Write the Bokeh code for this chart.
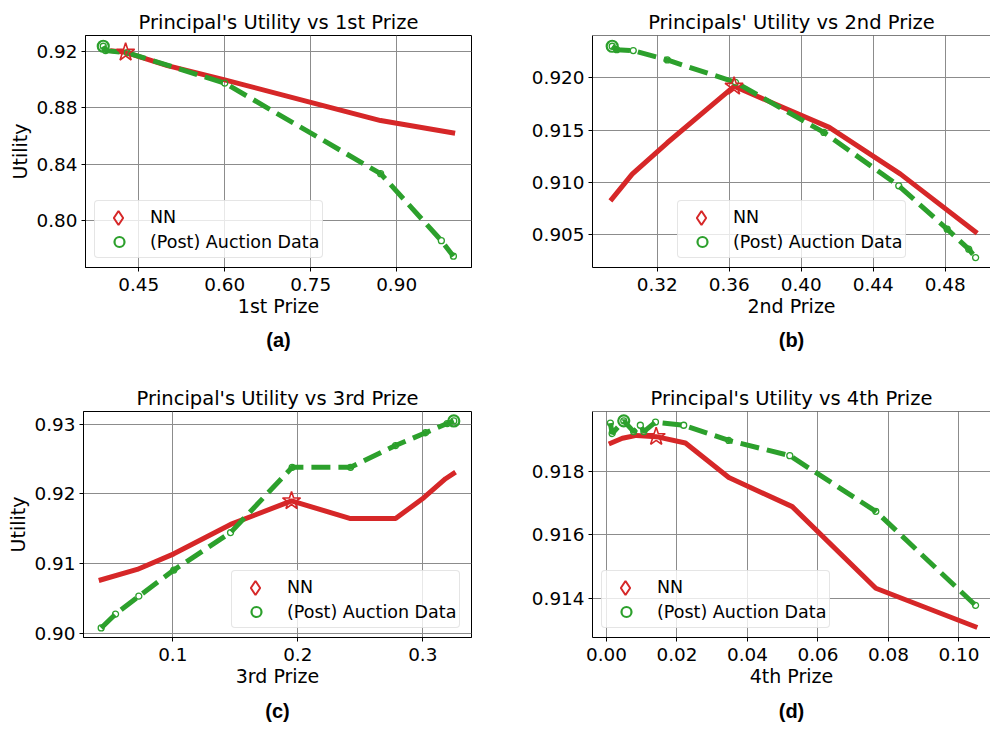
from bokeh.plotting import figure
from bokeh.layouts import column, row
from bokeh.models import Range1d, FixedTicker, Legend, LegendItem, Title, Span, NumeralTickFormatter
from bokeh.embed import file_html
from bokeh.resources import INLINE

RED = "#d62728"
GREEN = "#2ca02c"
FONT = "DejaVu Sans"

# ---------------- data ----------------
# (a) 1st prize
a_nn_x = [0.400, 0.427, 0.500, 0.600, 0.750, 0.872, 1.002]
a_nn_y = [0.9205, 0.9193, 0.9099, 0.8998, 0.8839, 0.8710, 0.8620]
a_nn_best = (0.427, 0.9193)
a_ad_x = [0.388, 0.392, 0.430, 0.600, 0.872, 0.978, 0.999]
a_ad_y = [0.9236, 0.9205, 0.9190, 0.8975, 0.8334, 0.7860, 0.7750]
a_ad_best = (0.388, 0.9236)

# (b) 2nd prize
b_nn_x = [0.294, 0.3061, 0.3256, 0.3627, 0.4156, 0.4552, 0.4978]
b_nn_y = [0.90825, 0.9108, 0.9138, 0.9192, 0.91527, 0.9108, 0.90515]
b_nn_best = (0.3627, 0.9192)
b_ad_x = [0.295, 0.2975, 0.3067, 0.3256, 0.3635, 0.4126, 0.4542, 0.4811, 0.4931, 0.4969]
b_ad_y = [0.92303, 0.9227, 0.92262, 0.92172, 0.91958, 0.91479, 0.90968, 0.90554, 0.90362, 0.90282]
b_ad_best = (0.295, 0.92303)

# (c) 3rd prize
c_nn_x = [0.0408, 0.0715, 0.1008, 0.1462, 0.1950, 0.2422, 0.2782, 0.3008, 0.3182, 0.3262]
c_nn_y = [0.90757, 0.90916, 0.9114, 0.91562, 0.91900, 0.91646, 0.91646, 0.91946, 0.92218, 0.92312]
c_nn_best = (0.1950, 0.9190)
c_ad_x = [0.0427, 0.0542, 0.0728, 0.1008, 0.1462, 0.1955, 0.2422, 0.2782, 0.3022, 0.3195, 0.3248]
c_ad_y = [0.90076, 0.90275, 0.90532, 0.90907, 0.91445, 0.92382, 0.92382, 0.92694, 0.92878, 0.93010, 0.93047]
c_ad_best = (0.3248, 0.93047)

# (d) 4th prize
d_nn_x = [0.00066, 0.0045, 0.0085, 0.0141, 0.0224, 0.0347, 0.0527, 0.0764, 0.1052]
d_nn_y = [0.91887, 0.91905, 0.91914, 0.91910, 0.91890, 0.91781, 0.91689, 0.91431, 0.91307]
d_nn_best = (0.0141, 0.9191)
d_ad_x = [0.0011, 0.0016, 0.0049, 0.0077, 0.0096, 0.0106, 0.0139, 0.0219, 0.0347, 0.0520, 0.0764, 0.1047]
d_ad_y = [0.91953, 0.91920, 0.91960, 0.91926, 0.91946, 0.91926, 0.91956, 0.91946, 0.91898, 0.91850, 0.91674, 0.91377]
d_ad_best = (0.0049, 0.91960)


def make_panel(title, sub, xr, yr, xticks, yticks, xfmt, yfmt, xlabel, ylabel,
               width, height, left, right, top, bottom, open_right,
               nn_x, nn_y, nn_best, ad_x, ad_y, ad_best, leg_loc, sub_standoff):
    p = figure(width=width, height=height, x_range=Range1d(*xr), y_range=Range1d(*yr),
               output_backend="svg", toolbar_location=None,
               min_border_left=left, min_border_right=right,
               min_border_top=top, min_border_bottom=bottom,
               background_fill_color="white", border_fill_color="white")
    p.title.text = title
    p.title.align = "center"
    p.title.text_font = FONT
    p.title.text_font_style = "normal"
    p.title.text_font_size = "19.5px"
    p.title.text_color = "black"
    p.title.standoff = 3

    for ax in (p.xaxis[0], p.yaxis[0]):
        ax.major_label_text_font = FONT
        ax.major_label_text_font_size = "18.4px"
        ax.major_label_text_color = "black"
        ax.axis_label_text_font = FONT
        ax.axis_label_text_font_size = "19px"
        ax.axis_label_text_font_style = "normal"
        ax.axis_label_text_color = "black"
        ax.major_tick_out = 4
        ax.major_tick_in = 0
        ax.minor_tick_out = 0
        ax.minor_tick_in = 0
        ax.axis_line_color = "black"
        ax.major_tick_line_color = "black"
    p.xaxis[0].major_label_standoff = 6
    p.xaxis[0].axis_label_standoff = 1
    p.yaxis[0].major_label_standoff = 4
    p.yaxis[0].axis_label_standoff = 3
    p.xaxis[0].ticker = FixedTicker(ticks=xticks)
    p.yaxis[0].ticker = FixedTicker(ticks=yticks)
    p.xaxis[0].formatter = NumeralTickFormatter(format=xfmt)
    p.yaxis[0].formatter = NumeralTickFormatter(format=yfmt)
    p.xaxis[0].axis_label = xlabel
    if ylabel:
        p.yaxis[0].axis_label = ylabel

    p.xgrid.grid_line_color = "#8c8c8c"
    p.ygrid.grid_line_color = "#8c8c8c"
    p.xgrid.grid_line_width = 1
    p.ygrid.grid_line_width = 1

    if open_right:
        p.outline_line_color = None
        p.add_layout(Span(location=yr[1], dimension="width", line_color="black", line_width=1))
    else:
        p.outline_line_color = "black"
        p.outline_line_width = 1

    p.line(nn_x, nn_y, line_color=RED, line_width=5, line_join="round")
    p.line(ad_x, ad_y, line_color=GREEN, line_width=5, line_dash="19 8")
    p.scatter(ad_x, ad_y, marker="circle", size=6, fill_color=None,
              line_color=GREEN, line_width=1.3)
    p.scatter([ad_best[0]], [ad_best[1]], marker="circle", size=11, fill_color=None,
              line_color=GREEN, line_width=2.2)
    p.scatter([nn_best[0]], [nn_best[1]], marker="star", size=19, fill_color=None,
              line_color=RED, line_width=1.6)

    # legend-only handles (a single point placed outside the visible range)
    off_x = [xr[0] - (xr[1] - xr[0])]
    off_y = [yr[0] - (yr[1] - yr[0])]
    nn_blank = p.scatter(x=off_x, y=off_y, marker="diamond", size=10, fill_color=None,
                         line_color=RED, line_alpha=0.0)
    nn_leg = p.scatter(x=off_x, y=off_y, marker="diamond", size=14, fill_color=None,
                       line_color=RED, line_width=2)
    ad_leg = p.scatter(x=off_x, y=off_y, marker="circle", size=10, fill_color=None,
                       line_color=GREEN, line_width=2.2)

    lx, ly = leg_loc
    legend = Legend(items=[LegendItem(label="NN", renderers=[nn_blank], index=0),
                           LegendItem(label="(Post) Auction Data", renderers=[ad_leg], index=0)],
                    location=(lx, ly))
    legend.label_text_font = FONT
    legend.label_text_font_size = "17.5px"
    legend.label_text_color = "black"
    legend.glyph_width = 42
    legend.glyph_height = 25
    legend.label_height = 25
    legend.label_standoff = 10
    legend.spacing = 0
    legend.padding = 3
    legend.margin = 0
    legend.border_line_color = "#cccccc"
    legend.border_line_width = 1
    legend.background_fill_color = "white"
    legend.background_fill_alpha = 0.8
    if "border_radius" in legend.properties():
        legend.border_radius = 4
    p.add_layout(legend)

    # larger diamond handle overlaid on the NN row of the legend
    dleg = Legend(items=[LegendItem(label=" ", renderers=[nn_leg], index=0)],
                  location=(lx + 3, ly + 23))
    dleg.glyph_width = 42
    dleg.glyph_height = 35
    dleg.label_height = 35
    dleg.label_standoff = 0
    dleg.label_text_font_size = "2px"
    dleg.padding = 0
    dleg.margin = 0
    dleg.spacing = 0
    dleg.border_line_color = None
    dleg.background_fill_alpha = 0.0
    p.add_layout(dleg)

    st = Title(text=sub, align="center", text_font="Liberation Sans",
               text_font_style="bold", text_font_size="20px", text_color="black",
               standoff=sub_standoff)
    p.add_layout(st, "below")
    return p


pa = make_panel("Principal's Utility vs 1st Prize", "(a)", (0.357, 1.0306), (0.767, 0.9312),
                [0.45, 0.60, 0.75, 0.90], [0.80, 0.84, 0.88, 0.92], "0.00", "0.00",
                "1st Prize", "Utility", 495, 375, 85, 24, 35, 108, False,
                a_nn_x, a_nn_y, a_nn_best, a_ad_x, a_ad_y, a_ad_best, (9, 9), 14)
pb = make_panel("Principals' Utility vs 2nd Prize", "(b)", (0.28406, 0.50517), (0.90187, 0.92406),
                [0.32, 0.36, 0.40, 0.44, 0.48], [0.905, 0.910, 0.915, 0.920], "0.00", "0.000",
                "2nd Prize", None, 495, 375, 97, 0, 35, 108, True,
                b_nn_x, b_nn_y, b_nn_best, b_ad_x, b_ad_y, b_ad_best, (85, 9), 14)
pc = make_panel("Principal's Utility vs 3rd Prize", "(c)", (0.02856, 0.33896), (0.89939, 0.93183),
                [0.1, 0.2, 0.3], [0.90, 0.91, 0.92, 0.93], "0.0", "0.00",
                "3rd Prize", "Utility", 495, 354, 83, 24, 36, 87, False,
                c_nn_x, c_nn_y, c_nn_best, c_ad_x, c_ad_y, c_ad_best, (148, 9), 16)
pd = make_panel("Principal's Utility vs 4th Prize", "(d)", (-0.00397, 0.10894), (0.912754, 0.919895),
                [0.0, 0.02, 0.04, 0.06, 0.08, 0.10], [0.914, 0.916, 0.918], "0.00", "0.000",
                "4th Prize", None, 495, 354, 97, 0, 36, 87, True,
                d_nn_x, d_nn_y, d_nn_best, d_ad_x, d_ad_y, d_ad_best, (9, 9), 16)

layout = column(row(pa, pb, spacing=0), row(pc, pd, spacing=0), spacing=0)

with open("out.html", "w") as f:
    f.write(file_html(layout, INLINE))
